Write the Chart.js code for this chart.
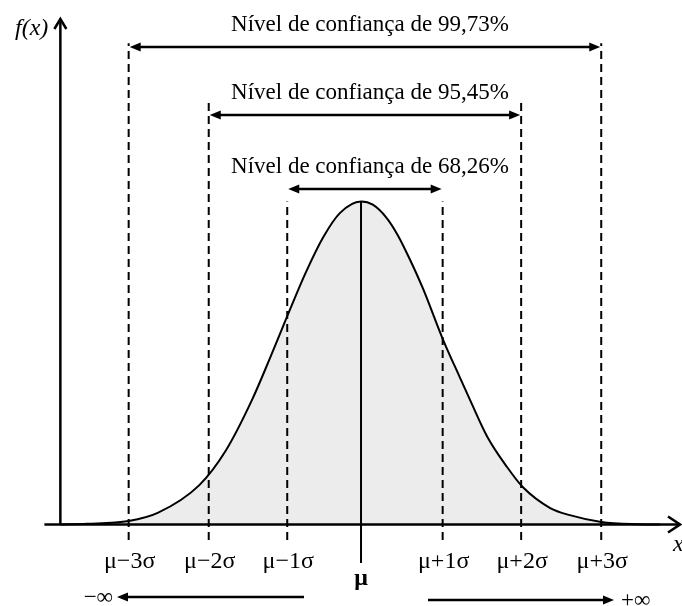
<!DOCTYPE html>
<html>
<head>
<meta charset="utf-8">
<script src="https://cdn.jsdelivr.net/npm/chart.js@4.4.1/dist/chart.umd.min.js"></script>
<style>
  html, body { margin: 0; padding: 0; background: #fff; }
  #wrap { position: relative; width: 682px; height: 606px; }
</style>
</head>
<body>
<div id="wrap"><canvas id="chart" width="682" height="606"></canvas></div>
<script>
// curve: x in sigma units from the mean, y relative to the peak
const curveX = [-3.83, -3.49, -2.96, -2.59, -2.06, -1.72, -1.39, -1.16, -0.94, -0.70, -0.48, -0.27, 0,
  0.15, 0.33, 0.47, 0.62, 0.79, 1.04, 1.26, 1.39, 1.61, 1.86, 2.06, 2.41, 2.66, 3.06, 3.55, 3.81];
const curveY = [0, 0.002, 0.011, 0.036, 0.122, 0.23, 0.385, 0.515, 0.645, 0.782, 0.89, 0.964, 1.0,
  0.99, 0.948, 0.895, 0.822, 0.73, 0.575, 0.455, 0.385, 0.271, 0.178, 0.116, 0.051, 0.029, 0.008, 0.001, 0];

// dashed guide lines (left, right) for 1, 2 and 3 sigma
const sigmaLeft = [-0.94, -1.94, -2.96];
const sigmaRight = [1.04, 2.04, 3.06];
const guideTop = [1.0, 1.31, 1.49];
const guideBottom = -0.048;
const meanLineBottom = -0.119;

const tickValues = [-2.96, -1.94, -0.94, 1.04, 2.04, 3.06];
const tickLabels = ["μ−3σ", "μ−2σ", "μ−1σ", "μ+1σ", "μ+2σ", "μ+3σ"];

const levelLabels = ["Nível de confiança de 68,26%", "Nível de confiança de 95,45%", "Nível de confiança de 99,73%"];
const levelArrowY = [1.039, 1.268, 1.478];

const serif = "'Liberation Serif', 'Times New Roman', serif";

const guideSets = [];
for (let i = 0; i < 3; i++) {
  [sigmaLeft[i], sigmaRight[i]].forEach(x => {
    guideSets.push({
      data: [{ x: x, y: guideBottom }, { x: x, y: guideTop[i] }],
      showLine: true,
      borderColor: "#000",
      borderWidth: 2,
      borderDash: [8, 5],
      pointRadius: 0,
      fill: false
    });
  });
}

function arrowHead(ctx, x, y, dir) {
  ctx.beginPath();
  ctx.moveTo(x, y);
  ctx.lineTo(x - dir * 11, y - 4.5);
  ctx.lineTo(x - dir * 11, y + 4.5);
  ctx.closePath();
  ctx.fill();
}

function hArrow(ctx, x1, x2, y, left, right) {
  ctx.beginPath();
  ctx.moveTo(x1 + (left ? 6 : 0), y);
  ctx.lineTo(x2 - (right ? 6 : 0), y);
  ctx.stroke();
  if (left) arrowHead(ctx, x1, y, -1);
  if (right) arrowHead(ctx, x2, y, 1);
}

const decorations = {
  id: "decorations",
  afterDatasetsDraw(chart) {
    const ctx = chart.ctx;
    const sx = chart.scales.x, sy = chart.scales.y;
    const y0 = sy.getPixelForValue(0);
    const yAxisX = sx.getPixelForValue(curveX[0]);
    ctx.save();
    ctx.strokeStyle = "#000";
    ctx.fillStyle = "#000";
    ctx.lineCap = "butt";

    // x axis with open arrow
    ctx.lineWidth = 2.5;
    ctx.beginPath();
    ctx.moveTo(yAxisX - 16, y0);
    ctx.lineTo(chart.chartArea.right - 2, y0);
    ctx.stroke();
    ctx.lineJoin = "miter";
    ctx.beginPath();
    ctx.moveTo(chart.chartArea.right - 14, y0 - 8);
    ctx.lineTo(chart.chartArea.right - 2, y0);
    ctx.lineTo(chart.chartArea.right - 14, y0 + 8);
    ctx.stroke();

    // y axis with open arrow
    ctx.beginPath();
    ctx.moveTo(yAxisX, y0);
    ctx.lineTo(yAxisX, 19);
    ctx.stroke();
    ctx.beginPath();
    ctx.moveTo(yAxisX - 6, 29);
    ctx.lineTo(yAxisX, 19);
    ctx.lineTo(yAxisX + 6, 29);
    ctx.stroke();

    // axis titles
    ctx.font = "italic 24px " + serif;
    ctx.textAlign = "right";
    ctx.textBaseline = "alphabetic";
    ctx.fillText("f(x)", yAxisX - 12, 35);
    ctx.textAlign = "left";
    ctx.fillText("x", chart.chartArea.right - 9, 551);

    // confidence arrows and labels
    ctx.lineWidth = 2.5;
    ctx.font = "23px " + serif;
    ctx.textAlign = "center";
    for (let i = 0; i < 3; i++) {
      const xl = sx.getPixelForValue(sigmaLeft[i]);
      const xr = sx.getPixelForValue(sigmaRight[i]);
      const ay = sy.getPixelForValue(levelArrowY[i]);
      hArrow(ctx, xl + 1, xr - 1, ay, true, true);
      ctx.fillText(levelLabels[i], (xl + xr) / 2 + 5, ay - 16);
    }

    // tick labels
    ctx.font = "24px " + serif;
    tickValues.forEach((v, i) => {
      ctx.fillText(tickLabels[i], sx.getPixelForValue(v) + 1, 568);
    });

    // mean label
    const mx = sx.getPixelForValue(0);
    ctx.font = "bold 24px " + serif;
    ctx.fillText("μ", mx, 585);

    // tails towards infinity
    ctx.font = "23px " + serif;
    ctx.lineWidth = 2.5;
    hArrow(ctx, 117, 304, 597, true, false);
    ctx.textAlign = "right";
    ctx.fillText("−∞", 113, 604);
    hArrow(ctx, 428, 614, 600, false, true);
    ctx.textAlign = "left";
    ctx.fillText("+∞", 621, 607);

    ctx.restore();
  }
};

new Chart(document.getElementById("chart"), {
  type: "scatter",
  data: {
    datasets: [
      {
        // mean line
        data: [{ x: 0, y: meanLineBottom }, { x: 0, y: curveY[curveX.indexOf(0)] }],
        showLine: true,
        borderColor: "#000",
        borderWidth: 2,
        pointRadius: 0,
        fill: false
      },
      ...guideSets,
      {
        data: curveX.map((x, i) => ({ x: x, y: curveY[i] })),
        showLine: true,
        borderColor: "#000",
        borderWidth: 2,
        backgroundColor: "#ececec",
        fill: "origin",
        cubicInterpolationMode: "monotone",
        pointRadius: 0
      }
    ]
  },
  options: {
    responsive: false,
    devicePixelRatio: 1,
    animation: false,
    layout: { padding: 0 },
    scales: {
      x: { type: "linear", min: -4.599, max: 4.089, display: false },
      y: { type: "linear", min: -0.2523, max: 1.6238, display: false }
    },
    plugins: {
      legend: { display: false },
      tooltip: { enabled: false }
    }
  },
  plugins: [decorations]
});
</script>
</body>
</html>
